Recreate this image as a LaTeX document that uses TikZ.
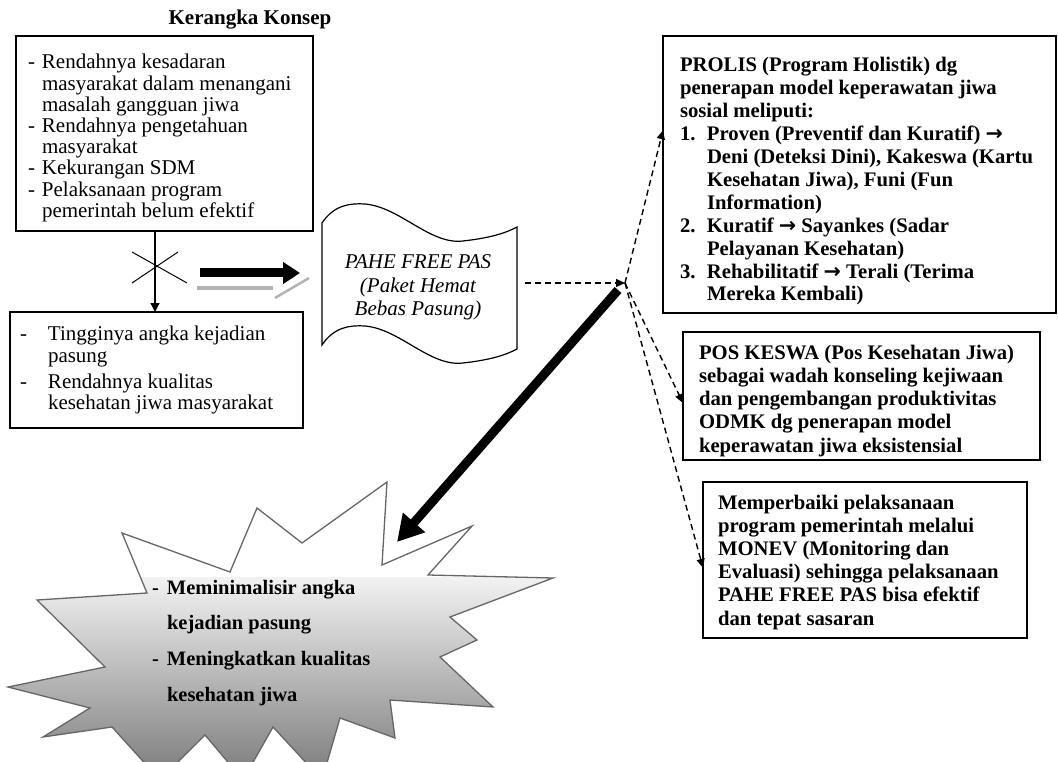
\documentclass[tikz,border=0pt]{standalone}
\usepackage{fontspec}
\setmainfont{Liberation Serif}
\newfontfamily\arrowfont{DejaVu Sans}
\usetikzlibrary{arrows.meta,calc}
\newcommand\dit[2]{\makebox[#1][l]{#2}}
\newcommand\rarr{{\arrowfont\bfseries →}}
\begin{document}
\begin{tikzpicture}[x=1pt,y=-1pt,
  box/.style={draw, rectangle, inner sep=0pt, outer sep=0pt, anchor=north west, fill=white},
  txt/.style={anchor=base west, inner sep=0pt, outer sep=0pt},
  reg/.style={font=\fontsize{21}{21.2}\selectfont},
  bld/.style={font=\bfseries\fontsize{20.7}{22.9}\selectfont},
  dasharrow/.style={line width=1.4pt, dash pattern=on 6pt off 4pt, -{Triangle[length=9pt,width=8pt]}},
]
\useasboundingbox (0,0) rectangle (1058,762);

% ---------- explosion ----------
\def\boompath{(122,533) -- (230,572) -- (257,508) -- (302,543) -- (387,482) -- (382,565) -- (472,526) -- (428,575) -- (553,578) -- (450,617) -- (477,640) -- (440,657) -- (493,707) -- (390,700) -- (395,738) -- (340,718) -- (322,780) -- (273,727) -- (243,780) -- (205,735) -- (160,780) -- (112,727) -- (43,737) -- (90,708) -- (8,687) -- (105,667) -- (37,600) -- (147,593) -- cycle}
\fill[white] \boompath;
\begin{scope}
  \clip \boompath;
  \shade[top color=black!5, bottom color=black!52] (0,577) rectangle (560,780);
\end{scope}
\draw[black!60, line width=1.3pt, line join=miter] \boompath;
\node[txt, font=\bfseries\fontsize{20.5}{35.7}\selectfont] (boomtxt) at (152,594)
  {\begin{tabular}[t]{@{}l@{}}\dit{15pt}{-}Meminimalisir angka\\ \dit{15pt}{}kejadian pasung\\ \dit{15pt}{-}Meningkatkan kualitas\\ \dit{15pt}{}kesehatan jiwa\end{tabular}};
\coordinate (boom) at (397,542);

% ---------- title ----------
\node[font=\bfseries\fontsize{21}{24}\selectfont, inner sep=0pt] (title) at (250,20) {Kerangka Konsep};

% ---------- box 1 ----------
\node[box, line width=2.2pt, minimum width=297pt, minimum height=195pt] (b1) at (16,36) {};
\node[txt, reg] (t1) at (28,69)
  {\begin{tabular}[t]{@{}l@{}}\dit{14pt}{-}Rendahnya kesadaran\\ \dit{14pt}{}masyarakat dalam menangani\\ \dit{14pt}{}masalah gangguan jiwa\\ \dit{14pt}{-}Rendahnya pengetahuan\\ \dit{14pt}{}masyarakat\\ \dit{14pt}{-}Kekurangan SDM\\ \dit{14pt}{-}Pelaksanaan program\\ \dit{14pt}{}pemerintah belum efektif\end{tabular}};

% ---------- box 2 ----------
\node[box, line width=1.4pt, minimum width=293pt, minimum height=116pt] (b2) at (10,312) {};
\node[txt, font=\fontsize{21}{22}\selectfont] (t2) at (20,340)
  {\begin{tabular}[t]{@{}l@{}}\dit{28pt}{-}Tingginya angka kejadian\\ \dit{28pt}{}pasung\\[4pt] \dit{28pt}{-}Rendahnya kualitas\\ \dit{28pt}{}kesehatan jiwa masyarakat\end{tabular}};

% vertical connector with cross
\coordinate (vx) at (155,0);
\draw[line width=1.2pt, -{Triangle[length=9pt,width=9pt]}] (b1.south -| vx) -- (b2.north -| vx);
\coordinate (x1) at (132,252); \coordinate (x2) at (187,283);
\coordinate (x3) at (132,283); \coordinate (x4) at (178,252);
\draw[line width=1pt] (x1) -- (x2);
\draw[line width=1pt] (x3) -- (x4);

% ---------- shadow + thick arrow to flag ----------
\coordinate (g1) at (197,288); \coordinate (g2) at (273,288);
\coordinate (g3) at (275,298); \coordinate (g4) at (309,278);
\draw[black!30, line width=4pt] (g1) -- (g2);
\draw[black!30, line width=2.5pt] (g3) -- (g4);
\coordinate (a1s) at (200,273); \coordinate (a1e) at (300,273);
\draw[line width=9pt, -{Triangle[length=17pt,width=21pt]}] (a1s) -- (a1e);

% ---------- flag ----------
\draw[line width=1.2pt, fill=white] (322,223) .. controls (334,205) and (350,203) .. (365,204) .. controls (400,207) and (430,245) .. (463,241) .. controls (490,238) and (506,233) .. (517,227) -- (517,349) .. controls (506,355) and (490,360) .. (463,363) .. controls (430,367) and (400,329) .. (365,326) .. controls (350,325) and (334,327) .. (322,345) -- cycle;
\node[font=\itshape\fontsize{21}{23.5}\selectfont, anchor=base, inner sep=0pt] (flag) at (418,269)
  {\begin{tabular}[t]{@{}c@{}}PAHE FREE PAS\\(Paket Hemat\\Bebas Pasung)\end{tabular}};
\coordinate (flagE) at (525,283);
\coordinate (hub) at (625,283);

% ---------- right boxes ----------
\node[box, line width=2.2pt, minimum width=393pt, minimum height=277pt] (b3) at (663,36) {};
\node[txt, bld] (t3) at (680,72)
  {\begin{tabular}[t]{@{}l@{}}PROLIS (Program Holistik) dg\\ penerapan model keperawatan jiwa\\ sosial meliputi:\\ \dit{27pt}{1.}Proven (Preventif dan Kuratif) \rarr\\ \dit{27pt}{}Deni (Deteksi Dini), Kakeswa (Kartu\\ \dit{27pt}{}Kesehatan Jiwa), Funi (Fun\\ \dit{27pt}{}Information)\\ \dit{27pt}{2.}Kuratif \rarr{} Sayankes (Sadar\\ \dit{27pt}{}Pelayanan Kesehatan)\\ \dit{27pt}{3.}Rehabilitatif \rarr{} Terali (Terima\\ \dit{27pt}{}Mereka Kembali)\end{tabular}};

\node[box, line width=1.4pt, minimum width=357pt, minimum height=128pt] (b4) at (683,332) {};
\node[txt, font=\bfseries\fontsize{20.7}{23.3}\selectfont] (t4) at (699,359)
  {\begin{tabular}[t]{@{}l@{}}POS KESWA (Pos Kesehatan Jiwa)\\ sebagai wadah konseling kejiwaan\\ dan pengembangan produktivitas\\ ODMK dg penerapan model\\ keperawatan jiwa eksistensial\end{tabular}};

\node[box, line width=1.4pt, minimum width=324pt, minimum height=156pt] (b5) at (703,482) {};
\node[txt, font=\bfseries\fontsize{20.7}{23.2}\selectfont] (t5) at (718,509)
  {\begin{tabular}[t]{@{}l@{}}Memperbaiki pelaksanaan\\ program pemerintah melalui\\ MONEV (Monitoring dan\\ Evaluasi) sehingga pelaksanaan\\ PAHE FREE PAS bisa efektif\\ dan tepat sasaran\end{tabular}};

% ---------- connectors from hub ----------
\draw[dasharrow] (flagE) -- (hub);
\draw[dasharrow] (hub) -- ($(b3.north west)!0.34!(b3.south west)$);
\draw[dasharrow] (hub) -- ($(b4.north west)!0.555!(b4.south west)$);
\draw[dasharrow] (hub) -- ($(b5.north west)!0.55!(b5.south west)$);
\coordinate (hubs) at (618,290);
\draw[line width=9pt, -{Triangle[length=26pt,width=28pt]}] (hubs) -- (boom);
\end{tikzpicture}
\end{document}
